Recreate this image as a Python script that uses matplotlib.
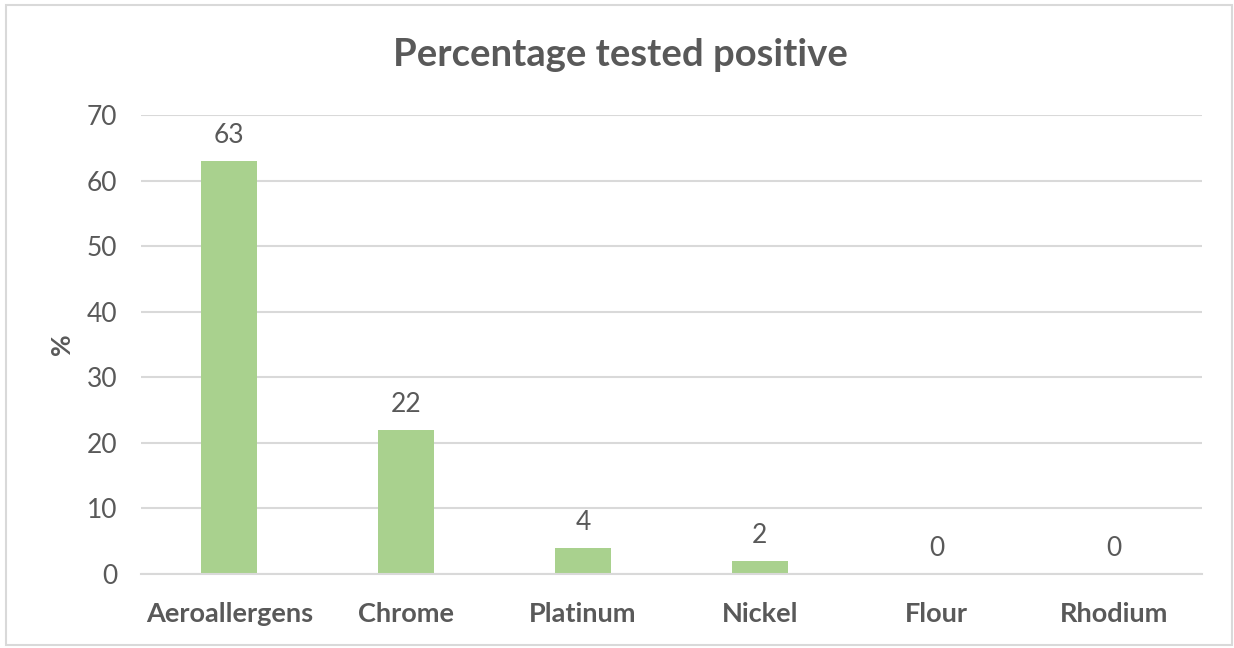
import matplotlib
matplotlib.use("Agg")
import matplotlib.pyplot as plt
from matplotlib.patches import Rectangle

categories = ["Aeroallergens", "Chrome", "Platinum", "Nickel", "Flour", "Rhodium"]
percent_positive = [63, 22, 4, 2, 0, 0]
y_ticks = [0, 10, 20, 30, 40, 50, 60, 70]

TEXT = "#595959"
GRID = "#D9D9D9"
BAR = "#A9D18E"

plt.rcParams["font.family"] = ["Lato", "DejaVu Sans"]

W, H = 1234, 648
fig = plt.figure(figsize=(W / 100, H / 100), dpi=100)
fig.patch.set_facecolor("white")

# outer chart frame
fig.add_artist(Rectangle((6 / W, 3 / H), 1226 / W, 640 / H,
                         transform=fig.transFigure, fill=False,
                         edgecolor=GRID, linewidth=1.5))

ax = fig.add_axes([141 / W, 1 - 574 / H, (1202 - 141) / W, (574 - 115) / H])
x = range(len(categories))
ax.bar(x, percent_positive, width=0.317, color=BAR, zorder=3)

ax.set_xlim(-0.5, len(categories) - 0.5)
ax.set_ylim(0, 70)
ax.set_yticks(y_ticks)
ax.set_yticklabels([str(t) for t in y_ticks], fontsize=19, color=TEXT)
ax.set_xticks(list(x))
ax.set_xticklabels(categories, fontsize=19.5, fontweight="bold", color=TEXT)
ax.tick_params(axis="both", length=0)
ax.tick_params(axis="y", pad=17)
ax.tick_params(axis="x", pad=20)

ax.grid(axis="y", color=GRID, linewidth=1.5, zorder=0)
for side in ("top", "right", "left"):
    ax.spines[side].set_visible(False)
ax.spines["bottom"].set_color(GRID)
ax.spines["bottom"].set_linewidth(1.5)
ax.spines["bottom"].set_zorder(4)

for xi, v in zip(x, percent_positive):
    ax.annotate(str(v), (xi, v), xytext=(0, 9), textcoords="offset points",
                ha="center", va="bottom", fontsize=19, color=TEXT)

ax.set_ylabel("%", fontsize=19, fontweight="bold", color=TEXT, labelpad=9)

fig.text(0.5 + 3 / W, 1 - 55 / H, "Percentage tested positive", ha="center",
         va="center", fontsize=27.5, fontweight="bold", color=TEXT)

fig.savefig("out.png", dpi=100, facecolor="white")
